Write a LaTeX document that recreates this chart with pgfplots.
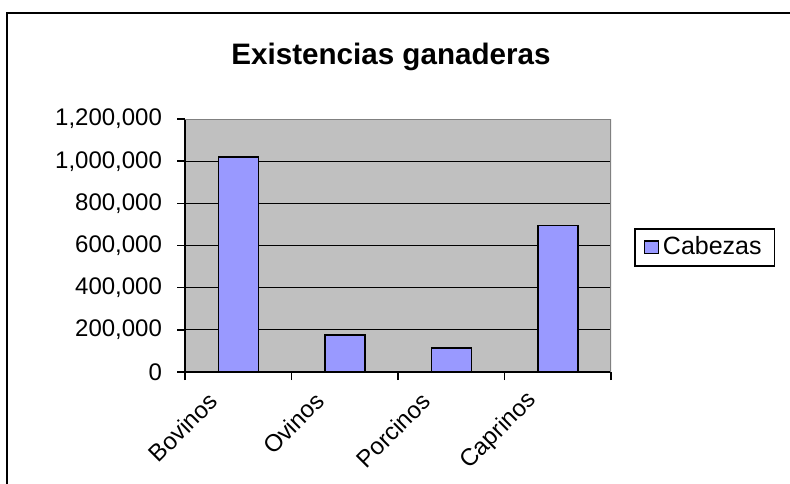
\documentclass[border=0pt]{standalone}
\usepackage{fontspec}
\setmainfont{Liberation Sans}
\usepackage{pgfplots}
\pgfplotsset{compat=1.18}
\definecolor{barblue}{HTML}{9999FF}
\definecolor{plotgray}{HTML}{C0C0C0}
\definecolor{bordergray}{HTML}{808080}
\begin{document}
\begin{tikzpicture}
\useasboundingbox (0,0) rectangle (395pt,241.5pt);
\draw[line width=0.75pt] (3.5pt,-1pt) -- (3.5pt,235pt) -- (396pt,235pt);
\node[font=\bfseries\fontsize{14.8}{16}\selectfont] at (195.5pt,213pt) {Existencias ganaderas};
\begin{axis}[
  at={(92.5pt,55.5pt)}, anchor=south west,
  scale only axis, width=213pt, height=126.5pt,
  xmin=0.5, xmax=4.5, ymin=0, ymax=1200000,
  axis background/.style={fill=plotgray},
  axis x line*=bottom, axis y line*=left,
  axis line style={black, line width=0.75pt, -},
  tick align=outside, major tick length=4pt,
  tick style={black, line width=0.75pt},
  xtick={0.5,1.5,2.5,3.5,4.5}, xticklabels={},
  extra x ticks={1,2,3,4},
  extra x tick labels={Bovinos,Ovinos,Porcinos,Caprinos},
  extra x tick style={tick style={draw=none},
    tick label style={xshift=-10pt, yshift=-6pt, rotate=45, anchor=east, font=\fontsize{12}{14}\selectfont}},
  ytick={0,200000,400000,600000,800000,1000000},
  extra y ticks={1200000},
  extra y tick style={grid=none},
  ymajorgrids, grid style={black, line width=0.6pt},
  scaled y ticks=false,
  yticklabel style={font=\fontsize{12}{14}\selectfont, xshift=-4pt},
  /pgf/number format/.cd, fixed, precision=0, 1000 sep={,}, assume math mode=true,
  /pgfplots/.cd,
  legend style={at={(1.054,0.569)}, anchor=north west, draw=black, line width=0.75pt,
    font=\fontsize{12.5}{14}\selectfont, inner xsep=4.5pt, inner ysep=2pt},
  legend image code/.code={\draw[#1, line width=0.6pt] (0pt,-3.2pt) rectangle (7pt,3.2pt);},
]
\addplot[ybar, bar width=20pt, fill=barblue, draw=black, line width=0.75pt]
  coordinates {(1,1020000) (2,175000) (3,115000) (4,695000)};
\addlegendentry{Cabezas}
\draw[bordergray, line width=0.75pt] (rel axis cs:0,1) -- (rel axis cs:1,1) -- (rel axis cs:1,0);
\end{axis}
\end{tikzpicture}
\end{document}
